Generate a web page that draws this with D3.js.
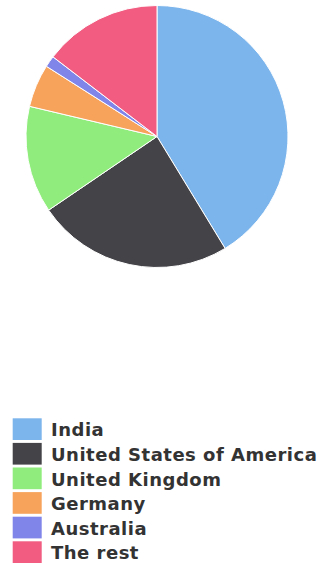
<!DOCTYPE html>
<html>
<head>
<meta charset="utf-8">
<script src="https://cdn.jsdelivr.net/npm/d3@7/dist/d3.min.js"></script>
<style>
  html, body { margin: 0; padding: 0; background: #fff; }
  svg { display: block; }
</style>
</head>
<body>
<svg id="chart" width="327" height="564"></svg>
<script>
// Share by country (percent)
const countries = ["India", "United States of America", "United Kingdom", "Germany", "Australia", "The rest"];
const shares = [41.3, 24.2, 13.2, 5.3, 1.4, 14.6];
const colors = ["#7cb5ec", "#434348", "#90ed7d", "#f7a35c", "#8085e9", "#f15c80"];

const svg = d3.select("#chart");
const cx = 157, cy = 136.5, radius = 131;

const pie = d3.pie().sort(null).value(d => d.value);
const arc = d3.arc().innerRadius(0).outerRadius(radius);
const data = countries.map((name, i) => ({ name, value: shares[i], color: colors[i] }));

svg.append("g")
  .attr("transform", `translate(${cx},${cy})`)
  .selectAll("path")
  .data(pie(data))
  .join("path")
  .attr("d", arc)
  .attr("fill", d => d.data.color)
  .attr("stroke", "#ffffff")
  .attr("stroke-width", 1)
  .attr("stroke-linejoin", "round");

// Legend
const rowStep = 24.6;
const legendY = d3.scaleBand().domain(countries).range([418.3, 418.3 + rowStep * countries.length]).paddingInner(0);
const legend = svg.append("g").selectAll("g")
  .data(data)
  .join("g")
  .attr("transform", d => `translate(0,${legendY(d.name)})`);

legend.append("rect")
  .attr("x", 12.7).attr("y", 0)
  .attr("width", 29).attr("height", 21.7)
  .attr("fill", d => d.color);

legend.append("text")
  .attr("x", 51).attr("y", 18)
  .attr("font-family", "DejaVu Sans, sans-serif")
  .attr("font-weight", "bold")
  .attr("font-size", 18)
  .attr("letter-spacing", 0.5)
  .attr("fill", "#333333")
  .text(d => d.name);
</script>
</body>
</html>
